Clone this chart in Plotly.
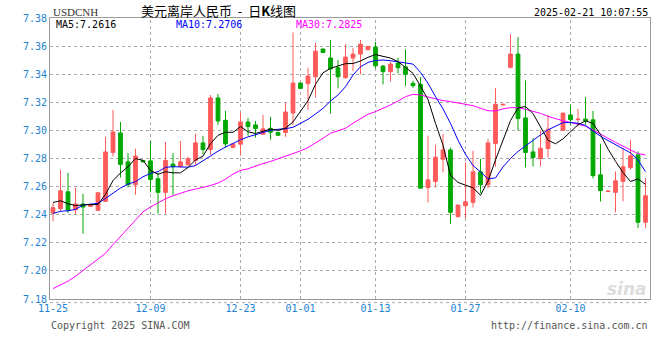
import plotly.graph_objects as go

# ---------------- data ----------------
dates = [
    "11-25", "11-26", "11-27", "11-28", "11-29", "11-30", "12-02", "12-03", "12-04", "12-05",
    "12-06", "12-07", "12-08", "12-09", "12-10", "12-11", "12-12", "12-13", "12-14", "12-16",
    "12-17", "12-18", "12-19", "12-20", "12-21", "12-23", "12-24", "12-25", "12-26", "12-27",
    "12-28", "12-30", "12-31", "01-01", "01-02", "01-03", "01-04", "01-06", "01-07", "01-08",
    "01-09", "01-10", "01-11", "01-13", "01-14", "01-15", "01-16", "01-17", "01-18", "01-20",
    "01-21", "01-22", "01-23", "01-24", "01-25", "01-27", "01-28", "01-29", "01-30", "01-31",
    "02-01", "02-02", "02-03", "02-04", "02-05", "02-06", "02-07", "02-08", "02-09", "02-10",
    "02-11", "02-12", "02-13", "02-14", "02-15", "02-17", "02-18", "02-19", "02-20", "02-21",
]

open_ = [
    7.2412, 7.2443, 7.2563, 7.2435, 7.2476, 7.2459, 7.2431, 7.2495, 7.2843, 7.2982,
    7.2776, 7.2613, 7.2786, 7.2783, 7.2656, 7.2559, 7.2760, 7.2743, 7.2755, 7.2786,
    7.2911, 7.2864, 7.3231, 7.3072, 7.2878, 7.2902, 7.3060, 7.3039, 7.2973, 7.3015,
    7.2985, 7.2985, 7.3124, 7.3337, 7.3333, 7.3382, 7.3579, 7.3515, 7.3446, 7.3375,
    7.3515, 7.3543, 7.3574, 7.3593, 7.3458, 7.3418, 7.3479, 7.3453, 7.3335, 7.3328,
    7.2594, 7.2637, 7.2795, 7.2861, 7.2386, 7.2464, 7.2488, 7.2705, 7.2613, 7.2906,
    7.3181, 7.3449, 7.3543, 7.3089, 7.2847, 7.2800, 7.2871, None, 7.3000, 7.3110,
    7.3077, 7.3081, 7.3075, 7.2684, 7.2565, 7.2559, 7.2637, 7.2735, 7.2826, 7.2346,
]
high = [
    7.2483, 7.2720, 7.2698, 7.2592, 7.2549, 7.2478, 7.2558, 7.2954, 7.3146, 7.3060,
    7.2838, 7.2869, 7.2790, 7.2925, 7.2696, 7.2918, 7.2838, 7.2925, 7.2814, 7.2977,
    7.2961, 7.3252, 7.3259, 7.3138, 7.2906, 7.3129, 7.3089, 7.3067, 7.3110, 7.3096,
    7.2990, 7.3198, 7.3697, 7.3340, 7.3446, 7.3624, 7.3583, 7.3643, 7.3501, 7.3614,
    7.3588, 7.3643, 7.3600, 7.3631, 7.3465, 7.3489, 7.3517, 7.3576, 7.3354, 7.3380,
    7.2963, 7.2897, 7.2975, 7.2878, 7.2470, 7.2772, 7.2854, 7.2798, 7.2940, 7.3302,
    7.3187, 7.3685, 7.3664, 7.3356, 7.2944, 7.2999, 7.3110, None, 7.3126, 7.3178,
    7.3153, 7.3236, 7.3138, 7.2904, 7.2570, 7.2708, 7.2873, 7.2931, 7.2850, 7.2660,
]
low = [
    7.2353, 7.2424, 7.2412, 7.2405, 7.2265, 7.2455, 7.2430, 7.2490, 7.2814, 7.2665,
    7.2594, 7.2542, 7.2772, 7.2559, 7.2407, 7.2407, 7.2542, 7.2735, 7.2750, 7.2750,
    7.2831, 7.2826, 7.3039, 7.2880, 7.2876, 7.2821, 7.2963, 7.2949, 7.2968, 7.2935,
    7.2962, 7.2954, 7.3039, 7.3297, 7.3146, 7.3233, 7.3553, 7.3120, 7.3299, 7.3370,
    7.3422, 7.3399, 7.3572, 7.3441, 7.3328, 7.3347, 7.3406, 7.3318, 7.3304, 7.2585,
    7.2488, 7.2594, 7.2701, 7.2334, 7.2381, 7.2374, 7.2452, 7.2554, 7.2589, 7.2741,
    7.3180, 7.3441, 7.2999, 7.2736, 7.2743, 7.2743, 7.2807, None, 7.2998, 7.3035,
    7.3027, 7.3040, 7.2657, 7.2494, 7.2563, 7.2417, 7.2495, 7.2720, 7.2305, 7.2305,
]
close = [
    7.2450, 7.2570, 7.2431, 7.2476, 7.2454, 7.2471, 7.2556, 7.2847, 7.2989, 7.2757,
    7.2613, 7.2817, 7.2776, 7.2651, 7.2559, 7.2786, 7.2741, 7.2776, 7.2798, 7.2911,
    7.2864, 7.3231, 7.3067, 7.2904, 7.2904, 7.3060, 7.3027, 7.3013, 7.3011, 7.2987,
    7.2966, 7.3131, 7.3337, 7.3299, 7.3387, 7.3564, 7.3555, 7.3437, 7.3382, 7.3522,
    7.3543, 7.3614, 7.3598, 7.3460, 7.3418, 7.3472, 7.3446, 7.3399, 7.3318, 7.2589,
    7.2648, 7.2809, 7.2861, 7.2417, 7.2469, 7.2492, 7.2705, 7.2613, 7.2911, 7.3186,
    7.3186, 7.3543, 7.3084, 7.2843, 7.2807, 7.2873, 7.3008, None, 7.3123, 7.3076,
    7.3080, 7.3068, 7.2678, 7.2572, 7.2568, 7.2641, 7.2741, 7.2819, 7.2346, 7.2535,
]

ma5 = [
    7.2487, 7.2499, 7.2478, 7.2465, 7.2470, 7.2472, 7.2473, 7.2545, 7.2643, 7.2697,
    7.2741, 7.2800, 7.2787, 7.2715, 7.2688, 7.2706, 7.2698, 7.2698, 7.2736, 7.2790,
    7.2817, 7.2906, 7.2965, 7.2987, 7.2986, 7.3027, 7.2990, 7.2978, 7.2995, 7.3010,
    7.3000, 7.3016, 7.3060, 7.3140, 7.3212, 7.3328, 7.3410, 7.3442, 7.3458, 7.3475,
    7.3476, 7.3494, 7.3520, 7.3540, 7.3527, 7.3515, 7.3490, 7.3450, 7.3406, 7.3315,
    7.3220, 7.3050, 7.2895, 7.2680, 7.2630, 7.2610, 7.2592, 7.2538, 7.2640, 7.2790,
    7.2930, 7.3070, 7.3160, 7.3170, 7.3120, 7.3030, 7.2930, 7.2905, 7.2940, 7.2990,
    7.3040, 7.3068, 7.3050, 7.2970, 7.2867, 7.2780, 7.2700, 7.2636, 7.2655, 7.2616,
]
ma10 = [
    7.2409, 7.2424, 7.2428, 7.2438, 7.2469, 7.2476, 7.2481, 7.2516, 7.2556, 7.2590,
    7.2618, 7.2635, 7.2670, 7.2694, 7.2706, 7.2737, 7.2742, 7.2738, 7.2738, 7.2750,
    7.2784, 7.2822, 7.2852, 7.2881, 7.2908, 7.2933, 7.2954, 7.2968, 7.2987, 7.3001,
    7.3008, 7.3012, 7.3022, 7.3051, 7.3079, 7.3117, 7.3157, 7.3209, 7.3252, 7.3311,
    7.3394, 7.3453, 7.3484, 7.3498, 7.3501, 7.3496, 7.3489, 7.3478, 7.3472, 7.3413,
    7.3335, 7.3240, 7.3153, 7.3050, 7.2930, 7.2830, 7.2750, 7.2705, 7.2655, 7.2662,
    7.2740, 7.2800, 7.2850, 7.2890, 7.2932, 7.2968, 7.3004, 7.3028, 7.3055, 7.3056,
    7.3051, 7.3035, 7.2998, 7.2958, 7.2928, 7.2897, 7.2870, 7.2840, 7.2790, 7.2706,
]
ma30 = [
    7.1874, 7.1898, 7.1927, 7.1962, 7.2002, 7.2045, 7.2080, 7.2125, 7.2187, 7.2245,
    7.2300, 7.2360, 7.2420, 7.2455, 7.2487, 7.2513, 7.2535, 7.2554, 7.2570, 7.2582,
    7.2594, 7.2608, 7.2625, 7.2653, 7.2689, 7.2715, 7.2727, 7.2748, 7.2764, 7.2779,
    7.2798, 7.2812, 7.2833, 7.2854, 7.2878, 7.2909, 7.2944, 7.2980, 7.2996, 7.3015,
    7.3051, 7.3086, 7.3115, 7.3134, 7.3157, 7.3181, 7.3209, 7.3240, 7.3257, 7.3252,
    7.3238, 7.3224, 7.3212, 7.3205, 7.3195, 7.3181, 7.3176, 7.3157, 7.3140, 7.3138,
    7.3153, 7.3162, 7.3162, 7.3150, 7.3135, 7.3121, 7.3100, 7.3083, 7.3068, 7.3057,
    7.3045, 7.3030, 7.3003, 7.2972, 7.2942, 7.2915, 7.2888, 7.2862, 7.2835, 7.2825,
]

x_tick_labels = ["11-25", "12-09", "12-23", "01-01", "01-13", "01-27", "02-10"]
y_ticks = [7.18, 7.20, 7.22, 7.24, 7.26, 7.28, 7.30, 7.32, 7.34, 7.36, 7.38]

symbol = "USDCNH"
title = "美元离岸人民币  -  日<b>K</b>线图"
timestamp = "2025-02-21 10:07:55"

# ---------------- figure ----------------
UP = "#ff5a5a"
DOWN = "#00a800"
AXIS_BLUE = "#1e82d2"
MONO = "DejaVu Sans Mono, Liberation Mono, monospace"

W, H = 660, 360
ML, MR, MT, MB = 50, 10, 18, 61

fig = go.Figure()
fig.add_trace(go.Candlestick(
    x=dates, open=open_, high=high, low=low, close=close,
    increasing=dict(line=dict(color=UP, width=1), fillcolor=UP),
    decreasing=dict(line=dict(color=DOWN, width=1), fillcolor=DOWN),
    whiskerwidth=0, showlegend=False, hoverinfo="skip",
))
fig.add_trace(go.Scatter(x=dates, y=ma30, mode="lines",
                         line=dict(color="#ff00ff", width=1), showlegend=False, hoverinfo="skip"))
fig.add_trace(go.Scatter(x=dates, y=ma10, mode="lines",
                         line=dict(color="#0000ff", width=1), showlegend=False, hoverinfo="skip"))
fig.add_trace(go.Scatter(x=dates, y=ma5, mode="lines",
                         line=dict(color="#000000", width=1), showlegend=False, hoverinfo="skip"))

shapes = []
for lab in x_tick_labels[1:]:
    shapes.append(dict(type="line", xref="x", yref="paper", x0=lab, x1=lab, y0=0, y1=1,
                       line=dict(color="#aaaaaa", width=1, dash="dot"), layer="below"))
shapes.append(dict(type="line", xref="paper", yref="paper", x0=0, x1=1, y0=-0.013, y1=-0.013,
                   line=dict(color="#aaaaaa", width=1, dash="dot")))


def px_x(px):
    return (px - ML) / (W - ML - MR)


def px_y(py):
    return (H - MB - py) / (H - MT - MB)


def note(text, x, y, anchor, size, color, family=MONO):
    return dict(text=text, x=px_x(x), y=px_y(y), xref="paper", yref="paper",
                xanchor=anchor, yanchor="middle", showarrow=False, borderpad=0,
                font=dict(family=family, size=size, color=color))


annotations = [
    note(symbol, 52, 12, "left", 11, "#333333", "Liberation Serif, serif"),
    note(title, 218, 11, "center", 13, "#000000", "Noto Sans CJK SC"),
    note(timestamp, 649, 12, "right", 10, "#000000"),
    note(f"MA5:{ma5[-1]:.4f}", 55, 24, "left", 10, "#000000"),
    note(f"MA10:{ma10[-1]:.4f}", 175, 24, "left", 10, "#0000ff"),
    note(f"MA30:{ma30[-1]:.4f}", 295, 24, "left", 10, "#ff00ff"),
    note("Copyright 2025 SINA.COM", 50, 325, "left", 10, "#555555"),
    note("http://finance.sina.com.cn", 649, 325, "right", 10, "#555555"),
    note("<i><b>sina</b></i>", 648, 289, "right", 17, "#dddddd", "DejaVu Sans, sans-serif"),
]

fig.update_layout(
    width=W, height=H,
    margin=dict(l=ML, r=MR, t=MT, b=MB),
    paper_bgcolor="white", plot_bgcolor="white",
    boxgap=0.28,
    shapes=shapes,
    annotations=annotations,
    hovermode=False,
    xaxis=dict(
        type="category", range=[-0.4, len(dates) - 0.4],
        rangeslider=dict(visible=False), automargin=False,
        tickmode="array", tickvals=x_tick_labels, ticktext=x_tick_labels,
        showgrid=False, zeroline=False,
        showline=True, mirror=True, linecolor="#999999", linewidth=1,
        ticks="", tickfont=dict(family=MONO, size=10, color=AXIS_BLUE),
    ),
    yaxis=dict(
        range=[7.18, 7.38], tickmode="array", tickvals=y_ticks, automargin=False,
        ticktext=[f"{v:.2f}" for v in y_ticks],
        showgrid=True, gridcolor="#aaaaaa", griddash="dot", gridwidth=1,
        zeroline=False,
        showline=True, mirror=True, linecolor="#999999", linewidth=1,
        ticks="", tickfont=dict(family=MONO, size=10, color=AXIS_BLUE),
    ),
)

fig.write_html(
    "out.html",
    config={"displayModeBar": False, "staticPlot": True},
    post_script="document.body.style.margin='0';document.body.style.overflow='hidden';",
)
